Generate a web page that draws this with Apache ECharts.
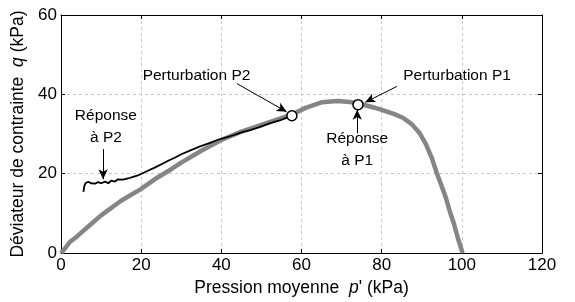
<!DOCTYPE html>
<html>
<head>
<meta charset="utf-8">
<script src="https://cdn.jsdelivr.net/npm/echarts@6/dist/echarts.min.js"></script>
<style>
html, body { margin: 0; padding: 0; background: #fff; }
#main { width: 575px; height: 302px; }
</style>
</head>
<body>
<div id="main"></div>
<script>
// chemin de contrainte principal (gris)
const grayCurve = [
    [0, 0], [1, 1.2], [2.2, 2.8], [4, 4.2], [6.8, 6.7], [10, 9.5], [15, 13.2],
    [20, 16.2], [24, 19], [27.6, 21.2], [30, 22.8], [35, 25.8], [40, 28.5],
    [45, 30.6], [50, 32.3], [55, 34], [58, 35.1], [61, 36.6], [65, 38],
    [69, 38.3], [72, 38.1], [75, 37.5], [78, 36.7], [80, 36.1], [83, 35.1],
    [85.3, 34.1], [87.5, 32.5], [89.5, 30.2], [91, 27.5], [92.5, 24],
    [93.8, 20], [95, 16.8], [96, 14], [97, 10.5], [98, 7.5], [99, 3.8], [100.2, 0]
];

// réponse à P2 (noir)
const blackCurve = [
    [5.6, 15.4], [5.8, 16.8], [6.1, 17.6], [6.8, 18.0], [7.5, 17.6], [8.5, 17.5],
    [9.3, 17.9], [10, 17.6], [11, 18.0], [11.8, 17.6], [12.6, 18.3], [13.4, 18.0],
    [14.2, 18.6], [15.5, 18.5], [16.7, 18.8], [18, 19.2], [19, 19.5], [20.1, 20],
    [21.8, 20.8], [23.5, 21.6], [25.3, 22.5], [27, 23.4], [28.5, 24.1], [30, 24.9],
    [32.3, 25.9], [34.7, 26.9], [37, 27.7], [39, 28.5], [41, 29.1], [43, 29.7],
    [45, 30.4], [47.2, 31], [49.7, 31.8], [51, 32.3], [53, 33], [55, 33.6],
    [56.5, 34.2], [57.6, 34.5]
];

const perturbPoints = [[57.6, 34.6], [74.1, 37.4]];

const xTicks = [0, 20, 40, 60, 80, 100, 120];
const yTicks = [0, 20, 40, 60];

const font = 'Liberation Sans, Arial, sans-serif';

const arrows = [
    [[43.9, 42.7], [56.3, 35.6]],
    [[83.8, 42.0], [75.9, 38.0]],
    [[73.9, 30.2], [73.9, 36.1]],
    [[10.5, 26.2], [10.5, 18.6]]
];

const notes = [
    [33.8, 44.8, 'Perturbation P2'],
    [98.8, 44.6, 'Perturbation P1'],
    [73.9, 26.0, 'Réponse\nà P1'],
    [11.2, 31.8, 'Réponse\nà P2']
];

const chart = echarts.init(document.getElementById('main'), null, { renderer: 'canvas' });

const gridLine = { show: true, lineStyle: { color: '#c8c8c8', type: [3, 3], width: 1 } };

chart.setOption({
    animation: false,
    backgroundColor: '#fff',
    textStyle: { fontFamily: font },
    grid: { left: 61, right: 33, top: 15, bottom: 47, show: false },
    xAxis: [
        {
            type: 'value', min: xTicks[0], max: xTicks[xTicks.length - 1], interval: 20,
            axisLine: { show: true, onZero: false, lineStyle: { color: '#000', width: 1 } },
            axisTick: { show: true, inside: true, length: 4, lineStyle: { color: '#000' } },
            axisLabel: { color: '#000', fontSize: 17, margin: 4, fontFamily: font },
            splitLine: gridLine,
            name: "{n|Pression moyenne  }{i|p}{n|' (kPa)}",
            nameLocation: 'middle',
            nameGap: 25,
            nameTextStyle: {
                rich: {
                    n: { fontSize: 17.5, color: '#000', fontFamily: font },
                    i: { fontSize: 17.5, color: '#000', fontFamily: font, fontStyle: 'italic' }
                }
            }
        },
        {
            type: 'value', position: 'top', min: 0, max: 120, interval: 20,
            axisLine: { show: true, onZero: false, lineStyle: { color: '#000', width: 1 } },
            axisTick: { show: true, inside: true, length: 4, lineStyle: { color: '#000' } },
            axisLabel: { show: false },
            splitLine: { show: false }
        }
    ],
    yAxis: [
        {
            type: 'value', min: yTicks[0], max: yTicks[yTicks.length - 1], interval: 20,
            axisLine: { show: true, onZero: false, lineStyle: { color: '#000', width: 1 } },
            axisTick: { show: true, inside: true, length: 4, lineStyle: { color: '#000' } },
            axisLabel: { color: '#000', fontSize: 17, margin: 4, fontFamily: font },
            splitLine: gridLine,
            name: '{n|Déviateur de contrainte  }{i|q}{n| (kPa)}',
            nameLocation: 'middle',
            nameGap: 31,
            nameTextStyle: {
                rich: {
                    n: { fontSize: 17.5, color: '#000', fontFamily: font },
                    i: { fontSize: 17.5, color: '#000', fontFamily: font, fontStyle: 'italic' }
                }
            }
        },
        {
            type: 'value', position: 'right', min: 0, max: 60, interval: 20,
            axisLine: { show: true, onZero: false, lineStyle: { color: '#000', width: 1 } },
            axisTick: { show: true, inside: true, length: 4, lineStyle: { color: '#000' } },
            axisLabel: { show: false },
            splitLine: { show: false }
        }
    ],
    series: [
        {
            type: 'line', name: 'chemin', data: grayCurve, showSymbol: false, symbol: 'none',
            lineStyle: { color: '#858585', width: 4.5 }, z: 2
        },
        {
            type: 'line', name: 'reponse', data: blackCurve, showSymbol: false, symbol: 'none',
            lineStyle: { color: '#000', width: 1.8 }, z: 3
        },
        {
            type: 'scatter', data: perturbPoints, symbol: 'circle', symbolSize: 10,
            itemStyle: { color: '#fff', borderColor: '#000', borderWidth: 1.5, opacity: 1 }, z: 5
        },
        {
            type: 'line', data: [], z: 4,
            markLine: {
                silent: true,
                symbol: ['none', 'arrow'],
                symbolSize: [7, 10],
                label: { show: false },
                lineStyle: { color: '#000', width: 1, type: 'solid', opacity: 1 },
                data: arrows.map(a => [{ coord: a[0] }, { coord: a[1] }])
            }
        },
        {
            type: 'scatter', data: notes, symbolSize: 0, z: 6,
            itemStyle: { opacity: 1 },
            label: {
                show: true,
                position: [0, 0],
                align: 'center',
                verticalAlign: 'middle',
                formatter: p => p.data[2],
                color: '#000',
                opacity: 1,
                fontSize: 15.5,
                lineHeight: 22,
                fontFamily: font
            }
        }
    ]
});
</script>
</body>
</html>
